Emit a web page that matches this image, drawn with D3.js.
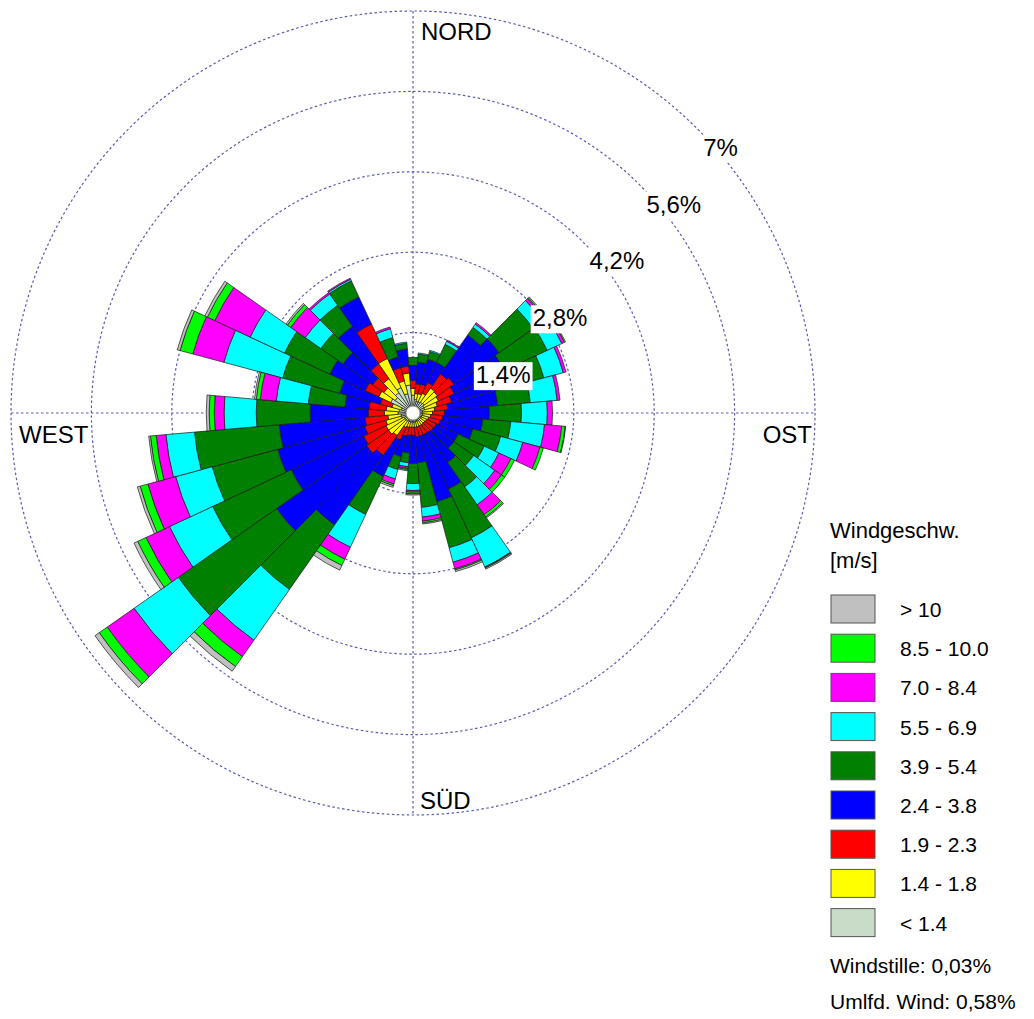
<!DOCTYPE html>
<html>
<head>
<meta charset="utf-8">
<script src="https://cdn.jsdelivr.net/npm/d3@7"></script>
<style>
body { margin: 0; background: #fff; }
text { font-family: Arial, "Liberation Sans", sans-serif; fill: #000; }
</style>
</head>
<body>
<svg></svg>
<script>
var width = 1034;
var height = 1019;
var center = {x: 413, y: 413};
var outerRadius = 402;

// wind direction sectors (degrees, centre of each 10 degree sector)
var sectors = [10,20,30,40,50,60,70,80,90,100,110,120,130,140,150,160,170,180,
               190,200,210,220,230,240,250,260,270,280,290,300,310,320,330,340,350,360];

// frequencies in % per speed class, same order as sectors
var lt14 = [.24,.21,.21,.23,.24,.21,.21,.17,.17,.17,.16,.16,.16,.16,.16,.16,.16,.16,
            .16,.16,.16,.17,.17,.17,.21,.21,.26,.24,.21,.43,.38,.43,.49,.35,.49,.31];
var s14  = [.10,.14,.17,.30,.28,.28,.23,.21,.17,.14,.12,.10,.09,.09,.09,.09,.09,.09,
            .09,.10,.12,.31,.35,.35,.28,.23,.24,.23,.17,.23,.24,.30,.56,.23,.21,.12];
var s19  = [.17,.17,.21,.30,.35,.30,.26,.23,.21,.21,.21,.19,.19,.17,.17,.17,.17,.14,
            .14,.16,.24,.42,.47,.43,.38,.40,.28,.30,.21,.26,.24,.31,.66,.24,.12,.14];
var s24  = [.38,.45,.38,.83,.96,.96,.96,.87,.78,.70,.59,.42,.43,.63,1.04,1.18,.45,.49,
            .31,.37,.70,1.48,1.91,1.39,1.57,1.50,1.01,.42,.73,.68,.63,.80,.52,.19,.30,.26];
var s39  = [.14,.14,.35,.16,.73,.83,.70,.57,.56,.49,.50,.50,.42,.52,.94,.83,.78,.35,
            .17,.23,.73,1.37,2.09,1.51,1.18,1.48,.94,.64,1.03,.87,.47,.45,.31,.35,.10,.14];
var s55  = [.02,.02,.06,.07,.21,.28,.35,.47,.45,.59,.40,.28,.45,.38,.56,.26,.17,.12,
            .07,.17,.63,1.08,.94,.83,.66,.50,.56,.56,1.06,.66,.33,.24,.03,.16,.02,0];
var s70  = [0,0,.02,.03,.05,.05,.05,.05,.09,.30,.31,.23,.14,.21,.01,.12,.07,.03,
            .03,.09,.23,.35,.57,.45,.50,.17,.17,.28,.56,.68,.31,.03,.02,.03,0,0];
var s85  = [0,0,0,0,.02,.02,0,0,0,.06,.06,.07,.07,.05,.01,.02,.03,.03,
            .02,.03,.12,.21,.17,.16,.14,.10,.09,.07,.23,.14,.07,0,0,0,0,0];
var gt10 = [0,0,0,0,.02,0,0,0,0,.01,0,0,0,.02,.02,.03,.02,.02,
            .02,.03,.09,.10,.09,.07,.05,.03,.05,.03,.05,.05,.03,0,0,0,0,0];

var classKeys   = ["lt14","s14","s19","s24","s39","s55","s70","s85","gt10"];
var classValues = [lt14, s14, s19, s24, s39, s55, s70, s85, gt10];
var classLabels = ["< 1.4","1.4 - 1.8","1.9 - 2.3","2.4 - 3.8","3.9 - 5.4",
                   "5.5 - 6.9","7.0 - 8.4","8.5 - 10.0","> 10"];
var classColors = ["#c8dcc8","#ffff00","#ff0000","#0000ff","#008000",
                   "#00ffff","#ff00ff","#00ff00","#c0c0c0"];

var ringTicks  = [1.4, 2.8, 4.2, 5.6, 7];
var ringLabels = ["1,4%","2,8%","4,2%","5,6%","7%"];

var svg = d3.select("svg")
            .attr("width", width)
            .attr("height", height);

// rows for d3.stack
var rows = sectors.map(function(s, i){
    var row = {dir: s};
    classKeys.forEach(function(k, j){ row[k] = classValues[j][i]; });
    return row;
});

var stacked = d3.stack().keys(classKeys)(rows);

var rscale = d3.scaleLinear()
               .domain([0, 7])
               .range([0, outerRadius]);

var toRad = Math.PI / 180;

var g = svg.append("g")
           .attr("transform", "translate(" + center.x + "," + center.y + ")");

// grid: rings and cross
g.selectAll("circle.ring")
    .data(ringTicks)
    .enter().append("circle")
    .attr("class", "ring")
    .attr("r", function(d){ return rscale(d); })
    .attr("fill", "none")
    .attr("stroke", "#5a5ab4")
    .attr("stroke-width", 1.2)
    .attr("stroke-dasharray", "2.5,2.5");

g.append("line")
    .attr("x1", 0).attr("x2", 0)
    .attr("y1", -rscale(7)).attr("y2", rscale(7))
    .attr("stroke", "#5a5ab4").attr("stroke-width", 1.2).attr("stroke-dasharray", "2.5,2.5");

g.append("line")
    .attr("y1", 0).attr("y2", 0)
    .attr("x1", -rscale(7)).attr("x2", rscale(7))
    .attr("stroke", "#5a5ab4").attr("stroke-width", 1.2).attr("stroke-dasharray", "2.5,2.5");

// bars
var arc = d3.arc()
    .innerRadius(function(d){ return rscale(d[0]); })
    .outerRadius(function(d){ return rscale(d[1]); })
    .startAngle(function(d){ return (d.data.dir - 5) * toRad; })
    .endAngle(function(d){ return (d.data.dir + 5) * toRad; });

g.selectAll("g.layer")
    .data(stacked)
    .enter().append("g")
    .attr("class", "layer")
    .attr("fill", function(d, i){ return classColors[i]; })
    .selectAll("path")
    .data(function(d){ return d.filter(function(p){ return p[1] - p[0] > 0; }); })
    .enter().append("path")
    .attr("d", arc)
    .attr("stroke", "#1a1a1a")
    .attr("stroke-width", 0.7);

// hole in the middle
g.append("circle")
    .attr("r", 7)
    .attr("fill", "#fff")
    .attr("stroke", "#888")
    .attr("stroke-width", 0.8);

// ring labels on the 45 degree line, with white box
var ringLab = g.selectAll("g.ringlab")
    .data(ringTicks)
    .enter().append("g")
    .attr("class", "ringlab")
    .attr("transform", function(d){
        var r = rscale(d);
        return "translate(" + (r * Math.SIN45 || r * Math.sin(45 * toRad)) + "," + (-r * Math.cos(45 * toRad)) + ")";
    });

ringLab.append("text")
    .attr("x", 6)
    .attr("y", 27)
    .attr("font-size", 24)
    .text(function(d, i){ return ringLabels[i]; });

ringLab.each(function(){
    var t = d3.select(this).select("text");
    var b = t.node().getBBox();
    d3.select(this).insert("rect", "text")
        .attr("x", b.x - 2).attr("y", b.y + 1)
        .attr("width", b.width + 4).attr("height", b.height + 1)
        .attr("fill", "#fff");
});

// direction names
g.append("text").attr("x", 8).attr("y", -rscale(7) + 29).attr("font-size", 24).text("NORD");
g.append("text").attr("x", 7).attr("y", rscale(7) - 6).attr("font-size", 24).text("SÜD");
g.append("text").attr("x", -rscale(7) + 8).attr("y", 30).attr("font-size", 24).text("WEST");
g.append("text").attr("x", rscale(7) - 3).attr("y", 30).attr("font-size", 24)
    .attr("text-anchor", "end").text("OST");

// legend
var legend = svg.append("g").attr("transform", "translate(830,0)");

legend.append("text").attr("x", 0).attr("y", 538).attr("font-size", 22).text("Windgeschw.");
legend.append("text").attr("x", 0).attr("y", 568).attr("font-size", 22).text("[m/s]");

var legendOrder = d3.range(classKeys.length).reverse();

var item = legend.selectAll("g.item")
    .data(legendOrder)
    .enter().append("g")
    .attr("class", "item")
    .attr("transform", function(d, i){ return "translate(0," + (595 + i * 39.2) + ")"; });

item.append("rect")
    .attr("x", 1).attr("width", 44).attr("height", 28)
    .attr("fill", function(d){ return classColors[d]; })
    .attr("stroke", "#555")
    .attr("stroke-width", 1);

item.append("text")
    .attr("x", 70).attr("y", 22)
    .attr("font-size", 21)
    .text(function(d){ return classLabels[d]; });

legend.append("text").attr("x", 0).attr("y", 973).attr("font-size", 21).text("Windstille: 0,03%");
legend.append("text").attr("x", 0).attr("y", 1009).attr("font-size", 21).text("Umlfd. Wind: 0,58%");
</script>
</body>
</html>
